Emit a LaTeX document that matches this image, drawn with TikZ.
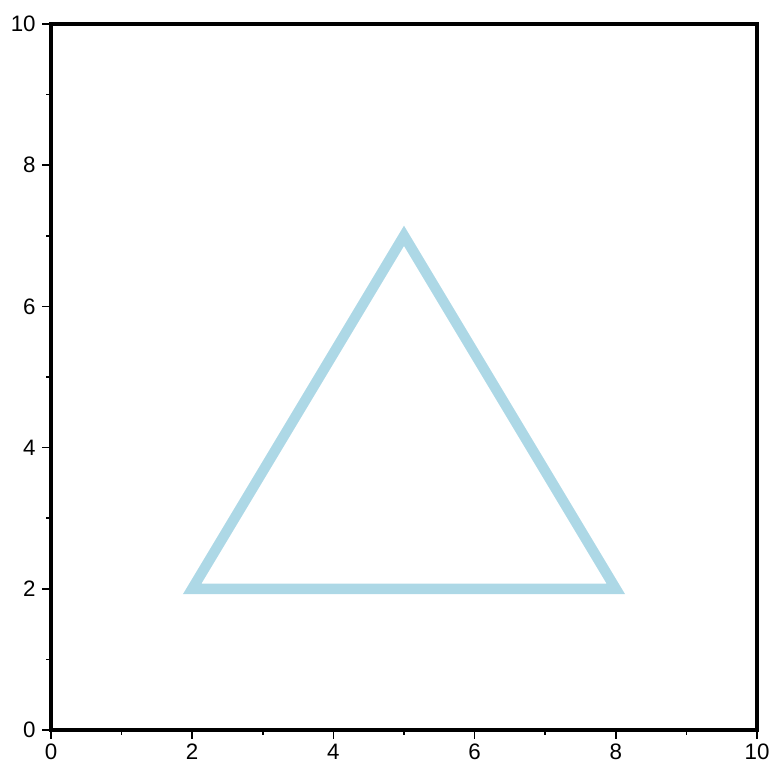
\documentclass[tikz,border=0pt]{standalone}
\usepackage{fontspec}
\setmainfont{Liberation Sans}
\usepackage{tikz}
\usetikzlibrary{positioning}
\definecolor{triblue}{HTML}{ADD8E6}

\tikzset{
  majortick/.style={line width=0.6pt, black},
  minortick/.style={line width=0.6pt, black},
  ticklabel/.style={inner sep=0pt, font=\fontsize{9}{10}\selectfont},
  frameline/.style={line width=1.6pt, black}
}

\begin{document}
\begin{tikzpicture}[x=1cm, y=1cm]
    \useasboundingbox (-0.722,-0.496) rectangle (10.198,10.340);
    % ticks and labels
    \foreach \v in {0,2,...,10} {
      \coordinate (bx\v) at (\v,-0.13);
      \coordinate (ly\v) at (-0.13,\v);
      \draw[majortick] (\v,0) -- (bx\v);
      \draw[majortick] (0,\v) -- (ly\v);
      \node[ticklabel, below=0.06cm of bx\v] (xl\v) {\v};
      \node[ticklabel, left=0.08cm of ly\v] (yl\v) {\v};
    }
    \foreach \v in {1,3,...,9} {
      \draw[minortick] (\v,0) -- (\v,-0.065);
      \draw[minortick] (0,\v) -- (-0.065,\v);
    }
    % frame
    \draw[frameline] (0,0) rectangle (10,10);
    % triangle
    \coordinate (p1) at (2,2);
    \coordinate (p2) at (8,2);
    \coordinate (p3) at (5,7);
    \draw[triblue, line width=4.2pt, line join=miter] (p1) -- (p2) -- (p3) -- cycle;
  \end{tikzpicture}
\end{document}
